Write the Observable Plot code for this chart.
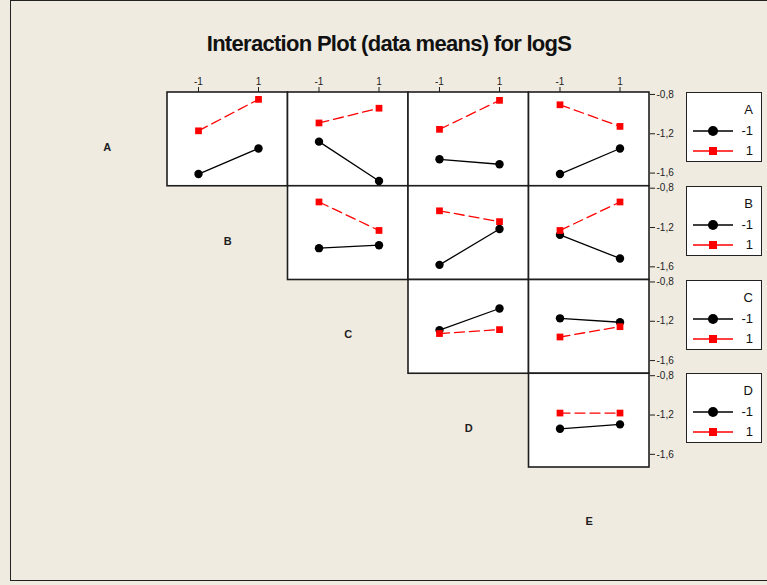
<!DOCTYPE html>
<html>
<head>
<meta charset="utf-8">
<script src="https://cdn.jsdelivr.net/npm/d3@7"></script>
<script src="https://cdn.jsdelivr.net/npm/@observablehq/plot@0.6"></script>
<style>
  html, body { margin: 0; padding: 0; background: #EFEBE1; }
  #chart { position: relative; width: 767px; height: 585px; overflow: hidden; background: #EFEBE1;
           font-family: "Liberation Sans", Arial, sans-serif; color: #111; }
  #border { position: absolute; left: 10px; top: 0; width: 800px; height: 581px; box-sizing: border-box;
            border: 1.5px solid #222; pointer-events: none; }
  #title { position: absolute; top: 31px; left: 0; width: 778px; text-align: center; font-weight: bold;
           font-family: "Liberation Sans", Arial, sans-serif;
           font-size: 22px; line-height: 26px; letter-spacing: -0.7px; }
  #plot { position: absolute; left: 0; top: 0; }
  .legend { position: absolute; left: 686px; width: 76px; height: 70px; box-sizing: border-box;
            border: 1.5px solid #222; background: #fff; }
  .legend .name { position: absolute; right: 8px; top: 10px; font-size: 13px; line-height: 13px; }
  .legend .item { position: absolute; left: 5px; right: 8px; height: 14px; }
  .legend .item svg { position: absolute; left: 0; top: 0; }
  .legend .item span { position: absolute; right: 0; top: 0; font-size: 13px; line-height: 14px; }
</style>
</head>
<body>
<div id="chart">
  <div id="title">Interaction Plot (data means) for logS</div>
  <div id="plot"></div>
  <div id="border"></div>
</div>
<script>
// Factors of the design; each trace factor is plotted against every later factor.
const factors = ["A", "B", "C", "D", "E"];
const levels = [-1, 1];
const yTicks = [-0.8, -1.2, -1.6];

// Panels as "trace factor" + "x-axis factor".
const pairs = ["AB", "AC", "AD", "AE", "BC", "BD", "BE", "CD", "CE", "DE"];

// Mean logS for the trace factor at level -1, at x = -1 and x = 1.
const lowTraceMeans = [
  [-1.61, -1.35], [-1.28, -1.68], [-1.46, -1.51], [-1.61, -1.35],
  [-1.41, -1.38], [-1.58, -1.215], [-1.275, -1.515],
  [-1.29, -1.07], [-1.17, -1.21],
  [-1.34, -1.295]
];

// Mean logS for the trace factor at level 1, at x = -1 and x = 1.
const highTraceMeans = [
  [-1.17, -0.85], [-1.09, -0.94], [-1.155, -0.86], [-0.905, -1.125],
  [-0.94, -1.23], [-1.03, -1.14], [-1.23, -0.94],
  [-1.325, -1.285], [-1.36, -1.255],
  [-1.18, -1.18]
];

// Layout of the panel matrix
const W = 767, H = 585;
const gridLeft = 167, gridTop = 92;
const cellW = 120.5, cellH = 93.75;

const panels = pairs.map(p => ({row: p[0], col: p[1]}));
const toRows = means => pairs.flatMap((p, i) =>
  levels.map((lx, j) => ({row: p[0], col: p[1], x: lx, y: means[i][j]})));
const lowRows = toRows(lowTraceMeans);
const highRows = toRows(highTraceMeans);

const pos = {fx: "col", fy: "row", x: "x", y: "y"};
const commaFormat = d => d.toFixed(1).replace(".", ",");
const traceFactors = factors.slice(0, 4);

const chart = Plot.plot({
  width: W,
  height: H,
  marginLeft: gridLeft,
  marginTop: gridTop,
  marginRight: W - gridLeft - 4 * cellW,
  marginBottom: H - gridTop - 4 * cellH,
  style: {background: "transparent", fontFamily: "'Liberation Sans', Arial, sans-serif", fontSize: "10px", color: "#1e1e1e", overflow: "visible"},
  fx: {domain: factors.slice(1), padding: 0, round: false, axis: null},
  fy: {domain: traceFactors, padding: 0, round: false, axis: null},
  x: {domain: [-2.033, 1.983], axis: "top", ticks: levels, tickFormat: d => String(d), tickSize: 6, tickPadding: 2, label: null},
  y: {domain: [-1.734, -0.78], axis: "right", ticks: yTicks, tickFormat: commaFormat, tickSize: 5, tickPadding: 2, label: null},
  marks: [
    Plot.rect(panels, {fx: "col", fy: "row", fill: "white", stroke: "#1e1e1e", strokeWidth: 1.6}),
    Plot.line(lowRows, {...pos, stroke: "#000", strokeWidth: 1.3}),
    Plot.dot(lowRows, {...pos, r: 4.2, fill: "#000", symbol: "circle"}),
    Plot.line(highRows, {...pos, stroke: "#ff0000", strokeWidth: 1.3, strokeDasharray: "10,5"}),
    Plot.dot(highRows, {...pos, r: 3.8, fill: "#ff0000", symbol: "square"}),
    // factor names sit on the diagonal, one cell left of each row's first panel
    Plot.text(traceFactors, {fx: d => factors[factors.indexOf(d) + 1], fy: d => d, text: d => d,
      frameAnchor: "middle", dx: -cellW, dy: 8, fontWeight: "bold", fontSize: 11}),
    Plot.text(["E"], {fx: () => "E", fy: () => "D", text: d => d,
      frameAnchor: "middle", dy: cellH + 7, fontWeight: "bold", fontSize: 11})
  ]
});
document.getElementById("plot").appendChild(chart);

// One legend box per trace factor, beside its row of panels
const root = document.getElementById("chart");
const swatch = (color, symbol) => `<svg width="42" height="14">
  <line x1="1" x2="41" y1="7" y2="7" stroke="${color}" stroke-width="1.6"/>
  ${symbol === "circle"
    ? `<circle cx="21" cy="7" r="5" fill="${color}"/>`
    : `<rect x="17" y="3" width="8" height="8" fill="${color}"/>`}
</svg>`;
traceFactors.forEach((f, i) => {
  const box = document.createElement("div");
  box.className = "legend";
  box.style.top = (gridTop + i * cellH) + "px";
  box.innerHTML = `<div class="name">${f}</div>
    <div class="item" style="top:31px">${swatch("#000", "circle")}<span>${levels[0]}</span></div>
    <div class="item" style="top:51px">${swatch("#ff0000", "square")}<span>${levels[1]}</span></div>`;
  root.appendChild(box);
});
</script>
</body>
</html>
